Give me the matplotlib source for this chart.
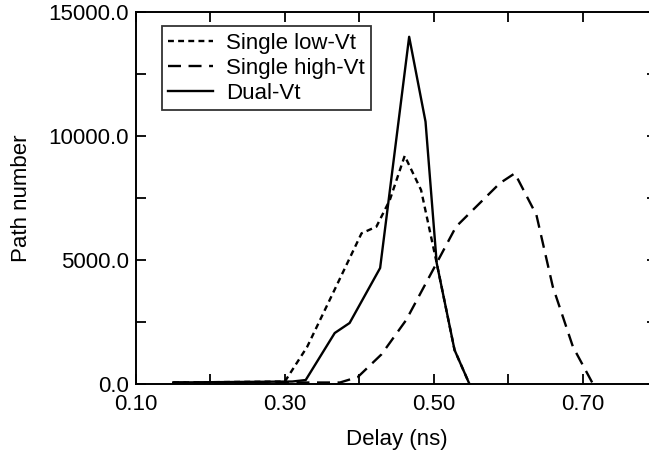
import matplotlib
matplotlib.use("Agg")
import matplotlib.pyplot as plt
from matplotlib.ticker import FormatStrFormatter, MultipleLocator

plt.rcParams['font.family'] = ['Liberation Sans', 'DejaVu Sans']

# delay (ns) and path counts
low_x = [0.15, 0.30, 0.33, 0.37, 0.403, 0.423, 0.441, 0.461, 0.483, 0.504, 0.528, 0.548]
low_y = [60, 100, 1500, 4000, 6075, 6344, 7419, 9200, 7822, 4879, 1370, 0]

high_x = [0.15, 0.30, 0.374, 0.398, 0.43, 0.463, 0.504, 0.530, 0.589, 0.609, 0.638, 0.660, 0.687, 0.714]
high_y = [60, 60, 60, 280, 1200, 2580, 4879, 6344, 8100, 8495, 6815, 3924, 1505, 0]

dual_x = [0.15, 0.31, 0.328, 0.367, 0.387, 0.428, 0.467, 0.489, 0.504, 0.528, 0.548]
dual_y = [60, 100, 160, 2056, 2460, 4677, 14000, 10577, 4879, 1370, 0]

x_major = [0.10, 0.30, 0.50, 0.70]
x_minor = [0.20, 0.40, 0.60]

fig = plt.figure(figsize=(6.49, 4.54), dpi=100)
ax = fig.add_axes([136 / 649, 1 - 384 / 454, 521 / 649, 372 / 454])

ax.plot(low_x, low_y, color='black', lw=1.7, dashes=(2.5, 1.8), label='Single low-Vt')
ax.plot(high_x, high_y, color='black', lw=1.7, dashes=(5.5, 3.2), label='Single high-Vt')
ax.plot(dual_x, dual_y, color='black', lw=1.7, label='Dual-Vt')

ax.set_xlim(0.10, 0.80)
ax.set_ylim(0, 15000)
ax.set_xticks(x_major)
ax.set_xticks(x_minor, minor=True)
ax.yaxis.set_major_locator(MultipleLocator(5000))
ax.yaxis.set_minor_locator(MultipleLocator(2500))
ax.xaxis.set_major_formatter(FormatStrFormatter('%.2f'))
ax.yaxis.set_major_formatter(FormatStrFormatter('%.1f'))
ax.tick_params(which='both', direction='in', top=True, right=True, labelsize=16, width=1.3)
ax.tick_params(which='major', length=7)
ax.tick_params(axis='x', which='major', pad=7)
ax.tick_params(axis='y', which='major', pad=5)
ax.tick_params(which='minor', length=7)
for s in ax.spines.values():
    s.set_linewidth(1.4)

ax.set_xlabel('Delay (ns)', fontsize=16, labelpad=10)
ax.set_ylabel('Path number', fontsize=16, labelpad=12)

leg = ax.legend(loc='upper left', bbox_to_anchor=(0.049, 0.962), fontsize=16,
                frameon=True, fancybox=False, edgecolor='black', handlelength=2.0,
                borderpad=0.3, labelspacing=0.18, handletextpad=0.6, borderaxespad=0)
leg.get_frame().set_linewidth(1.3)

fig.savefig('out.png', dpi=100)
